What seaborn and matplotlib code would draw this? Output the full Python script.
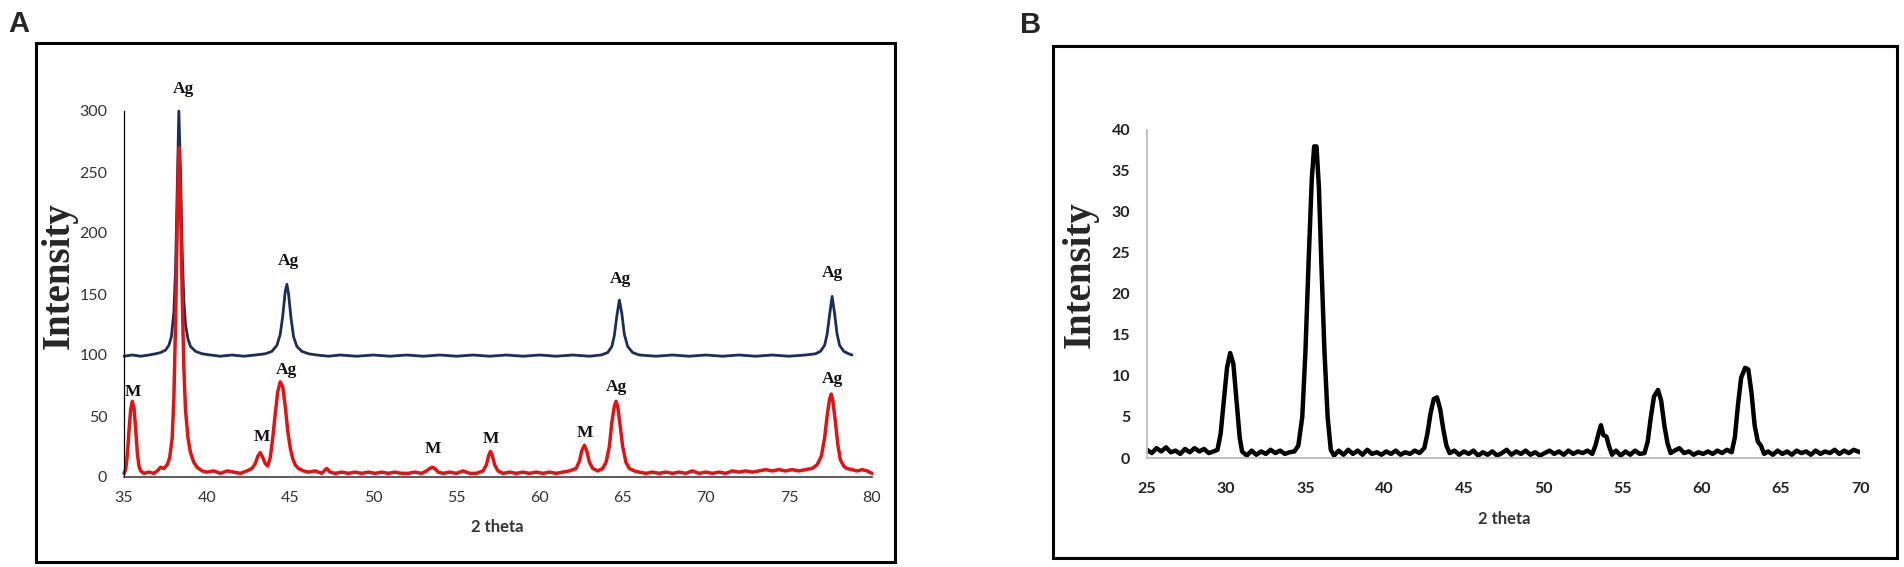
import matplotlib
matplotlib.use("Agg")
import matplotlib.pyplot as plt
import pandas as pd
import seaborn as sns
from matplotlib.patches import Rectangle

# panel A: XRD patterns (blue = Ag, red = Ag + M), (2 theta, intensity)
blue_points = [
    (35.0, 99), (35.5, 100), (36.0, 99), (36.5, 100), (36.9, 101), (37.2, 102),
    (37.5, 104), (37.7, 108), (37.85, 115), (38.0, 135), (38.1, 170), (38.2, 235),
    (38.3, 300), (38.4, 250), (38.5, 185), (38.6, 145), (38.7, 125), (38.85, 113),
    (39.0, 107), (39.3, 103), (39.7, 101), (40.2, 100), (40.8, 99), (41.5, 100),
    (42.2, 99), (42.9, 100), (43.5, 101), (43.9, 103), (44.2, 108), (44.4, 117),
    (44.55, 132), (44.7, 152), (44.8, 158), (44.9, 150), (45.05, 130), (45.2, 115),
    (45.4, 107), (45.7, 103), (46.1, 101), (46.6, 100), (47.3, 99), (48.0, 100),
    (49.0, 99), (50.0, 100), (51.0, 99), (52.0, 100), (53.0, 99), (54.0, 100),
    (55.0, 99), (56.0, 100), (57.0, 99), (58.0, 100), (59.0, 99), (60.0, 100),
    (61.0, 99), (62.0, 100), (63.0, 99), (63.7, 100), (64.1, 102), (64.35, 107),
    (64.5, 116), (64.65, 132), (64.8, 145), (64.95, 134), (65.1, 117), (65.3, 107),
    (65.6, 102), (66.0, 100), (67.0, 99), (68.0, 100), (69.0, 99), (70.0, 100),
    (71.0, 99), (72.0, 100), (73.0, 99), (74.0, 100), (75.0, 99), (76.0, 100),
    (76.6, 101), (76.9, 103), (77.15, 108), (77.3, 117), (77.45, 133), (77.6, 148),
    (77.75, 134), (77.9, 117), (78.05, 108), (78.3, 103), (78.6, 101), (78.8, 100),
]

red_points = [
    (35.0, 3), (35.1, 6), (35.2, 18), (35.3, 38), (35.4, 55), (35.5, 62),
    (35.6, 57), (35.7, 40), (35.8, 20), (35.9, 9), (36.0, 5), (36.2, 3),
    (36.5, 4), (36.8, 3), (37.0, 5), (37.2, 8), (37.4, 7), (37.6, 10),
    (37.75, 16), (37.9, 32), (38.0, 65), (38.1, 125), (38.2, 205), (38.3, 270),
    (38.4, 225), (38.5, 150), (38.6, 90), (38.7, 55), (38.85, 32), (39.0, 20),
    (39.2, 12), (39.4, 8), (39.7, 5), (40.0, 4), (40.4, 5), (40.8, 3),
    (41.2, 5), (41.6, 4), (42.0, 3), (42.4, 5), (42.7, 7), (42.9, 11),
    (43.05, 17), (43.2, 20), (43.35, 16), (43.5, 11), (43.65, 9), (43.8, 16),
    (43.95, 32), (44.1, 52), (44.25, 70), (44.4, 78), (44.55, 74), (44.7, 58),
    (44.85, 38), (45.0, 24), (45.15, 15), (45.3, 10), (45.5, 7), (45.8, 5),
    (46.1, 4), (46.5, 5), (46.9, 3), (47.2, 7), (47.4, 4), (47.7, 3),
    (48.1, 4), (48.5, 3), (48.9, 4), (49.3, 3), (49.7, 4), (50.1, 3),
    (50.5, 4), (50.9, 3), (51.3, 4), (51.7, 3), (52.1, 3), (52.5, 4),
    (52.9, 3), (53.2, 5), (53.4, 7), (53.55, 8), (53.7, 7), (53.9, 4),
    (54.2, 3), (54.6, 4), (55.0, 3), (55.4, 5), (55.8, 3), (56.2, 3),
    (56.6, 5), (56.8, 10), (56.95, 18), (57.05, 21), (57.15, 18), (57.3, 10),
    (57.5, 5), (57.8, 3), (58.2, 4), (58.6, 3), (59.0, 4), (59.4, 3),
    (59.8, 4), (60.2, 3), (60.6, 4), (61.0, 3), (61.4, 4), (61.8, 5),
    (62.2, 7), (62.4, 13), (62.55, 22), (62.7, 26), (62.85, 21), (63.0, 12),
    (63.2, 7), (63.5, 5), (63.8, 7), (64.0, 12), (64.2, 25), (64.35, 45),
    (64.5, 58), (64.6, 62), (64.7, 58), (64.85, 42), (65.0, 25), (65.2, 12),
    (65.4, 7), (65.7, 5), (66.0, 4), (66.4, 3), (66.8, 4), (67.2, 3),
    (67.6, 4), (68.0, 3), (68.4, 4), (68.8, 3), (69.2, 5), (69.6, 3),
    (70.0, 4), (70.4, 3), (70.8, 4), (71.2, 3), (71.6, 5), (72.0, 4),
    (72.4, 5), (72.8, 4), (73.2, 5), (73.6, 6), (74.0, 5), (74.4, 6),
    (74.8, 5), (75.2, 6), (75.6, 5), (76.0, 6), (76.4, 7), (76.7, 10),
    (76.95, 17), (77.15, 32), (77.3, 50), (77.45, 64), (77.55, 68), (77.65, 62),
    (77.8, 45), (77.95, 26), (78.1, 14), (78.3, 9), (78.5, 7), (78.8, 6),
    (79.1, 5), (79.4, 6), (79.7, 5), (80.0, 3),
]

# peak labels of panel A: (text, 2 theta, height)
peak_labels = [
    ("Ag", 38.6, 318), ("Ag", 44.9, 177), ("Ag", 64.85, 162), ("Ag", 77.65, 167),
    ("M", 35.55, 70), ("M", 43.3, 33), ("Ag", 44.75, 88), ("M", 53.6, 23),
    ("M", 57.1, 31), ("M", 62.7, 36), ("Ag", 64.65, 74), ("Ag", 77.6, 80),
]

# panel B: single XRD pattern
black_points = [
    (25.0, 1.0), (25.3, 0.6), (25.6, 1.2), (25.9, 0.8), (26.2, 1.3), (26.5, 0.7),
    (26.8, 0.9), (27.1, 0.5), (27.4, 1.1), (27.7, 0.7), (28.0, 1.2), (28.3, 0.8),
    (28.6, 1.1), (28.9, 0.6), (29.2, 0.8), (29.45, 1.0), (29.65, 3.0), (29.85, 7.0),
    (30.05, 11.0), (30.25, 12.8), (30.45, 11.5), (30.65, 7.0), (30.85, 2.5), (31.0, 0.8),
    (31.3, 0.3), (31.6, 0.9), (31.9, 0.4), (32.2, 0.8), (32.5, 0.5), (32.8, 1.0),
    (33.1, 0.6), (33.4, 0.9), (33.7, 0.5), (34.0, 0.7), (34.3, 0.8), (34.55, 1.5),
    (34.8, 5.0), (35.0, 13.0), (35.2, 24.0), (35.4, 34.0), (35.55, 38.0), (35.7, 38.0),
    (35.85, 33.0), (36.0, 24.0), (36.2, 13.0), (36.4, 5.0), (36.6, 1.0), (36.8, 0.3),
    (37.1, 0.9), (37.4, 0.4), (37.7, 1.0), (38.0, 0.5), (38.3, 0.9), (38.6, 0.4),
    (38.9, 1.0), (39.2, 0.5), (39.5, 0.7), (39.8, 0.4), (40.1, 0.8), (40.4, 0.5),
    (40.7, 0.9), (41.0, 0.4), (41.3, 0.7), (41.6, 0.5), (41.9, 0.9), (42.2, 0.6),
    (42.5, 1.2), (42.7, 3.0), (42.9, 5.5), (43.1, 7.2), (43.3, 7.4), (43.5, 6.0),
    (43.7, 3.5), (43.9, 1.5), (44.1, 0.6), (44.4, 0.9), (44.7, 0.4), (45.0, 0.8),
    (45.3, 0.5), (45.6, 0.9), (45.9, 0.3), (46.2, 0.7), (46.5, 0.4), (46.8, 0.8),
    (47.1, 0.3), (47.4, 0.6), (47.7, 1.0), (48.0, 0.4), (48.3, 0.8), (48.6, 0.5),
    (48.9, 0.9), (49.2, 0.4), (49.5, 0.7), (49.8, 0.3), (50.1, 0.6), (50.4, 0.9),
    (50.7, 0.5), (51.0, 0.8), (51.3, 0.4), (51.6, 0.9), (51.9, 0.5), (52.2, 0.8),
    (52.5, 0.6), (52.8, 0.9), (53.1, 0.5), (53.3, 1.5), (53.5, 3.0), (53.65, 4.0),
    (53.8, 2.8), (54.0, 2.6), (54.15, 1.5), (54.35, 0.4), (54.6, 0.9), (54.9, 0.3),
    (55.2, 0.8), (55.5, 0.4), (55.8, 0.9), (56.1, 0.5), (56.4, 0.6), (56.6, 2.0),
    (56.8, 5.0), (57.0, 7.5), (57.25, 8.3), (57.45, 7.0), (57.65, 4.0), (57.85, 1.8),
    (58.05, 0.6), (58.3, 0.9), (58.6, 1.2), (58.9, 0.6), (59.2, 0.8), (59.5, 0.4),
    (59.8, 0.7), (60.1, 0.5), (60.4, 0.8), (60.7, 0.5), (61.0, 0.9), (61.3, 0.6),
    (61.6, 1.0), (61.9, 0.7), (62.1, 2.5), (62.3, 6.5), (62.5, 9.8), (62.75, 11.0),
    (62.95, 10.8), (63.15, 8.0), (63.35, 4.0), (63.55, 2.0), (63.75, 1.5), (63.95, 0.5),
    (64.2, 0.8), (64.5, 0.4), (64.8, 0.9), (65.1, 0.5), (65.4, 0.8), (65.7, 0.4),
    (66.0, 0.9), (66.3, 0.6), (66.6, 0.8), (66.9, 0.4), (67.2, 0.9), (67.5, 0.5),
    (67.8, 0.8), (68.1, 0.6), (68.4, 1.0), (68.7, 0.5), (69.0, 0.9), (69.3, 0.6),
    (69.6, 1.0), (70.0, 0.7),
]

a_xticks = [35, 40, 45, 50, 55, 60, 65, 70, 75, 80]
a_yticks = [0, 50, 100, 150, 200, 250, 300]
b_xticks = [25, 30, 35, 40, 45, 50, 55, 60, 65, 70]
b_yticks = [0, 5, 10, 15, 20, 25, 30, 35, 40]


def to_df(points):
    return pd.DataFrame(points, columns=["theta", "intensity"])


sns.set_style("white")
plt.rcParams['font.family'] = ['Lato', 'DejaVu Sans']

W, H = 1904, 567
fig = plt.figure(figsize=(W / 100, H / 100), dpi=100)

ax_a = fig.add_axes([124 / W, 1 - 477 / H, 748 / W, 366 / H])
ax_b = fig.add_axes([1147 / W, 1 - 458 / H, 713 / W, 328 / H])

# ---- panel A
sns.lineplot(data=to_df(blue_points), x="theta", y="intensity", ax=ax_a,
             color="#1c2d5a", linewidth=2.0, estimator=None, sort=False, clip_on=False)
sns.lineplot(data=to_df(red_points), x="theta", y="intensity", ax=ax_a,
             color="#e01414", linewidth=2.5, estimator=None, sort=False, clip_on=False)
ax_a.set_xlim(35, 80)
ax_a.set_ylim(0, 300)
ax_a.set_xticks(a_xticks)
ax_a.set_yticks(a_yticks)
ax_a.set_xlabel("")
ax_a.set_ylabel("")
ax_a.tick_params(axis="both", length=0, labelsize=11.5, labelcolor="#333333")
ax_a.tick_params(axis="y", pad=12)
ax_a.tick_params(axis="x", pad=10)
for side in ["top", "right"]:
    ax_a.spines[side].set_visible(False)
ax_a.spines["left"].set_color("black")
ax_a.spines["left"].set_linewidth(0.9)
ax_a.spines["bottom"].set_color("#404040")
ax_a.spines["bottom"].set_linewidth(1.2)
ax_a.set_facecolor("none")

for txt, xv, yv in peak_labels:
    ax_a.text(xv, yv, txt, ha="center", va="center", fontsize=12.5,
              fontweight="bold", family="Liberation Serif", color="#111111")

# ---- panel B
sns.lineplot(data=to_df(black_points), x="theta", y="intensity", ax=ax_b,
             color="black", linewidth=3.2, estimator=None, sort=False)
ax_b.set_xlim(25, 70)
ax_b.set_ylim(0, 40)
ax_b.set_xticks(b_xticks)
ax_b.set_yticks(b_yticks)
ax_b.set_xlabel("")
ax_b.set_ylabel("")
ax_b.tick_params(axis="both", direction="out", length=3, width=1, color="#bdbdbd",
                 labelsize=11.5, labelcolor="#222222")
ax_b.tick_params(axis="y", pad=9)
ax_b.tick_params(axis="x", pad=14)
for lab in ax_b.get_xticklabels() + ax_b.get_yticklabels():
    lab.set_fontweight("bold")
for side in ["top", "right"]:
    ax_b.spines[side].set_visible(False)
for side in ["left", "bottom"]:
    ax_b.spines[side].set_color("#bdbdbd")
    ax_b.spines[side].set_linewidth(1.3)
ax_b.set_facecolor("none")

# ---- axis titles, panel letters, frames
serif = dict(family="Liberation Serif", fontweight="bold", fontsize=28,
             rotation=90, ha="center", va="center")
fig.text(59 / W, 1 - 276 / H, "Intensity", **serif)
fig.text(1080 / W, 1 - 275 / H, "Intensity", **serif)
fig.text(497 / W, 1 - 527 / H, "2 theta", ha="center", va="center",
         fontsize=12, fontweight="bold", color="#333333")
fig.text(1504 / W, 1 - 519 / H, "2 theta", ha="center", va="center",
         fontsize=12, fontweight="bold", color="#333333")
fig.text(19 / W, 1 - 24 / H, "A", ha="center", va="center", fontsize=21,
         fontweight="bold", family="Liberation Sans")
fig.text(1031 / W, 1 - 25 / H, "B", ha="center", va="center", fontsize=21,
         fontweight="bold", family="Liberation Sans")

fig.add_artist(Rectangle((36 / W, 1 - 562 / H), (895 - 36) / W, (562 - 43) / H,
                         transform=fig.transFigure, fill=False, lw=2.2, edgecolor="black"))
fig.add_artist(Rectangle((1053 / W, 1 - 558 / H), (1897 - 1053) / W, (558 - 46) / H,
                         transform=fig.transFigure, fill=False, lw=2.2, edgecolor="black"))

fig.savefig("out.png", dpi=100, facecolor="white")
